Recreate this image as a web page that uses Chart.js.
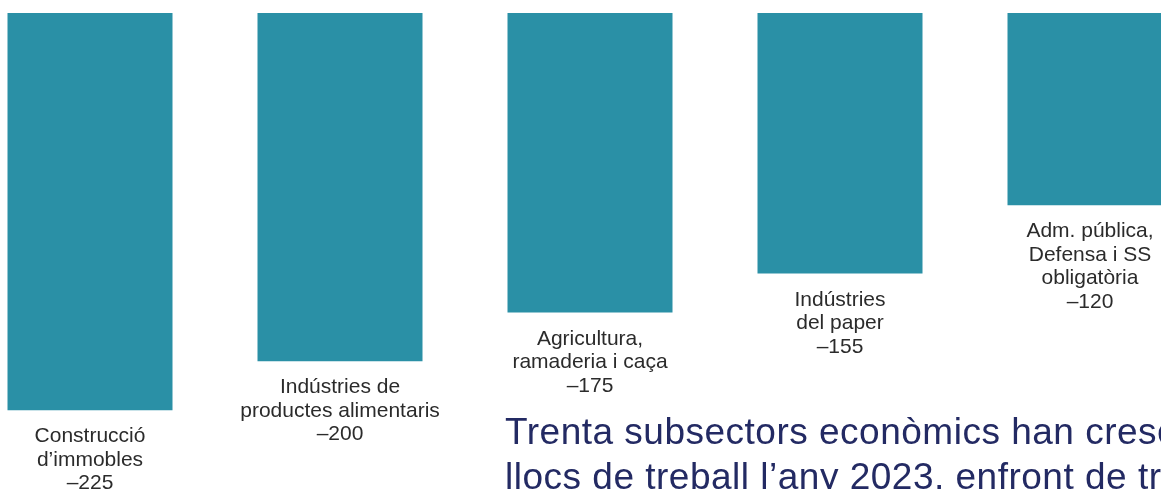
<!DOCTYPE html>
<html>
<head>
<meta charset="utf-8">
<script src="https://cdn.jsdelivr.net/npm/chart.js@4.4.1/dist/chart.umd.min.js"></script>
<style>
  html, body { margin:0; padding:0; background:#fff; width:1161px; height:489px; overflow:hidden; position:relative; }
  #wrap { position:absolute; left:-35px; top:0; width:1250px; height:489px; }
  #title { position:absolute; left:505px; top:409px; white-space:nowrap; font-family:"Liberation Sans", Arial, sans-serif; font-size:37px; line-height:45px; color:#232a63; letter-spacing:0.5px; }
</style>
</head>
<body>
<div id="wrap"><canvas id="c"></canvas></div>
<div id="title">Trenta subsectors econòmics han crescut en<br>llocs de treball l’any 2023, enfront de tretze</div>
<script>
const categories = [
  ["Construcció", "d’immobles"],
  ["Indústries de", "productes alimentaris"],
  ["Agricultura,", "ramaderia i caça"],
  ["Indústries", "del paper"],
  ["Adm. pública,", "Defensa i SS", "obligatòria"]
];
const values = [-225, -200, -175, -155, -120];
const valueLabels = ["–225", "–200", "–175", "–155", "–120"];

const labelPlugin = {
  id: 'barLabels',
  afterDatasetsDraw(chart) {
    const ctx = chart.ctx;
    const meta = chart.getDatasetMeta(0);
    ctx.save();
    ctx.font = '21px "Liberation Sans", Arial, sans-serif';
    ctx.fillStyle = '#2b2b2b';
    ctx.textAlign = 'center';
    ctx.textBaseline = 'alphabetic';
    meta.data.forEach((bar, i) => {
      const lines = categories[i].concat([valueLabels[i]]);
      let y = bar.y + 32;
      lines.forEach(l => { ctx.fillText(l, bar.x, y); y += 23.5; });
    });
    ctx.restore();
  }
};

new Chart(document.getElementById('c'), {
  type: 'bar',
  data: {
    labels: categories.map(c => c.join(' ')),
    datasets: [{
      data: values,
      backgroundColor: '#2a90a6',
      borderWidth: 0,
      barPercentage: 0.66,
      categoryPercentage: 1.0
    }]
  },
  options: {
    responsive: true,
    maintainAspectRatio: false,
    animation: false,
    layout: { padding: { top: 13, bottom: 0, left: 0, right: 0 } },
    plugins: { legend: { display: false }, tooltip: { enabled: false } },
    scales: {
      x: { display: false },
      y: { display: false, min: -265.4, max: -21.5 }
    }
  },
  plugins: [labelPlugin]
});
</script>
</body>
</html>
